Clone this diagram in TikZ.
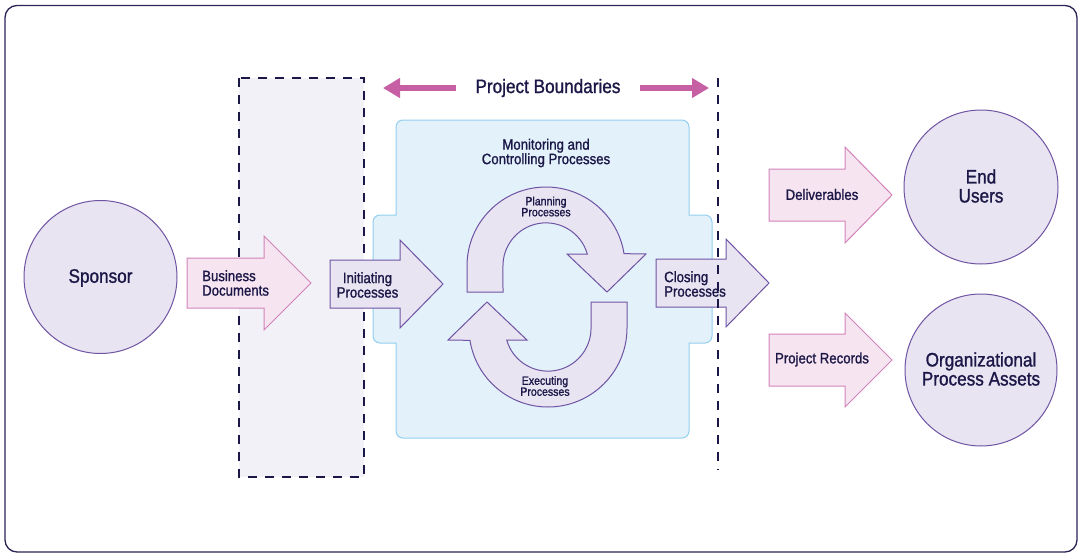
\documentclass[tikz,border=0pt]{standalone}
\usepackage{fontspec}
\setmainfont{Liberation Sans}[FakeStretch=0.88, FakeBold=1.2]
\usetikzlibrary{arrows.meta}
\definecolor{navy}{HTML}{1B1747}
\definecolor{framecol}{HTML}{2B2456}
\definecolor{lilacfill}{HTML}{E8E4F2}
\definecolor{lilacline}{HTML}{6F54A3}
\definecolor{pinkfill}{HTML}{F6E4F0}
\definecolor{pinkline}{HTML}{D283B8}
\definecolor{magenta}{HTML}{C65FA3}
\definecolor{bluefill}{HTML}{E3F1FB}
\definecolor{blueline}{HTML}{93CFEF}
\definecolor{greyfill}{HTML}{F2F1F7}
\tikzset{
  frame/.style = {draw=framecol, line width=1.3pt, rounded corners=12pt},
  lilac/.style = {draw=lilacline, fill=lilacfill, line width=1pt},
  pinkish/.style = {draw=pinkline, fill=pinkfill, line width=1pt},
  mcbox/.style = {draw=blueline, fill=bluefill, line width=1pt},
  bnddash/.style = {draw=navy, line width=1.2pt, dash pattern=on 9pt off 8pt},
  bndarrow/.style = {draw=magenta, line width=6pt, -{Triangle[length=17pt, width=19pt]}},
  bigtext/.style = {text=navy, inner sep=0, align=center, font=\fontsize{19.5}{19}\selectfont},
  midtext/.style = {text=navy, inner sep=0, font=\fontsize{15}{14.5}\selectfont},
  smalltext/.style = {text=navy, inner sep=0, align=center, font=\fontsize{12}{11}\selectfont}
}
% style, left x, head x, tip x, mid y, body half, head half
\newcommand{\blockarrow}[7]{%
  \draw [#1] (#2,#5-#6) -- (#3,#5-#6) -- (#3,#5-#7) -- (#4,#5)
    -- (#3,#5+#7) -- (#3,#5+#6) -- (#2,#5+#6) -- cycle;}

\begin{document}
\begin{tikzpicture}[x=1pt, y=-1pt]
  \useasboundingbox (0,0) rectangle (1082,557);
  \draw [frame] (5,5.5) rectangle (1077,552);

  % areas
  \fill [greyfill] (239,78) rectangle (364,477);
  \draw [bnddash] (239,78) rectangle (364,477);
  \draw [mcbox] (396,127) arc [start angle=180, end angle=270, radius=7]
    -- (682,120) arc [start angle=270, end angle=360, radius=7]
    -- (689,215) -- (705,215) arc [start angle=270, end angle=360, radius=7]
    -- (712,336) arc [start angle=0, end angle=90, radius=7]
    -- (689,343) -- (689,431) arc [start angle=0, end angle=90, radius=7]
    -- (403,438) arc [start angle=90, end angle=180, radius=7]
    -- (396,343) -- (380,343) arc [start angle=90, end angle=180, radius=7]
    -- (373,222) arc [start angle=180, end angle=270, radius=7]
    -- (396,215) -- cycle;

  % boundaries
  \node [bigtext, inner xsep=19pt] (bnd) at (548,88) {Project Boundaries};
  \coordinate (bndl) at (383,88);
  \coordinate (bndr) at (709,88);
  \draw [bndarrow] (bnd.west) -- (bndl);
  \draw [bndarrow] (bnd.east) -- (bndr);

  % circles
  \draw [lilac] (100.5,277) circle [radius=76.5];
  \node [bigtext] (sponsor) at (100.5,278) {Sponsor};
  \draw [lilac] (981,187) circle [radius=77];
  \node [bigtext] (endusers) at (981,186) {End\\Users};
  \draw [lilac] (981,370) circle [radius=76];
  \node [bigtext] (opa) at (981,369) {Organizational\\Process Assets};

  % block arrows
  \blockarrow{pinkish}{187}{264}{311}{283}{25}{47}
  \node [midtext, anchor=west, align=left] (bizdocs) at (202,283) {Business\\Documents};
  \blockarrow{lilac}{330}{400}{443}{284}{24}{44}
  \node [midtext, align=center] (initiating) at (367.5,285) {Initiating\\Processes};
  \blockarrow{lilac}{656}{726}{769}{283}{24}{44}
  \node [midtext, anchor=west, align=left] (closing) at (664,284) {Closing\\Processes};
  \blockarrow{pinkish}{769}{845}{892}{195}{26}{48}
  \node [midtext] (deliverables) at (822,194.5) {Deliverables};
  \blockarrow{pinkish}{769}{845}{892}{360}{26}{47}
  \node [midtext] (records) at (822,359.5) {Project Records};

  \draw [bnddash] (718,78) -- (718,470);

  % cycle
  \node [midtext, align=center] (monitoring) at (546,153) {Monitoring and\\Controlling Processes};
  \foreach \r in {0,180}
    \draw [lilac, rotate around={\r:(547,297)}] (467,292) -- (467,266)
      arc [start angle=180, end angle=351, radius=79] -- (646,254) -- (607,292)
      -- (567,254) -- (587.3,254) arc [start angle=344, end angle=180, radius=43]
      -- (503,292) -- cycle;
  \node [smalltext] (planning) at (546,206.5) {Planning\\Processes};
  \node [smalltext] (executing) at (545,386) {Executing\\Processes};
\end{tikzpicture}
\end{document}
